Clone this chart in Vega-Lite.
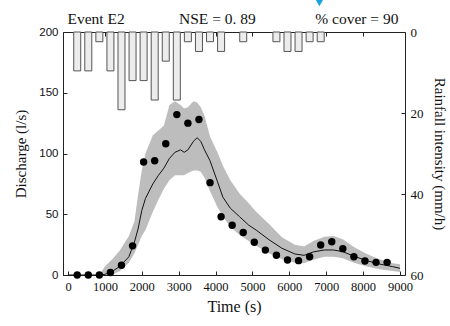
{
  "$schema": "https://vega.github.io/schema/vega-lite/v6.json",
  "width": 342,
  "height": 243,
  "autosize": "none",
  "padding": {"left": 63, "top": 32, "right": 45, "bottom": 51},
  "background": "white",
  "config": {
    "view": {"stroke": "#222", "strokeWidth": 1},
    "axis": {"grid": false, "domain": false, "tickColor": "#222", "labelColor": "#111", "titleColor": "#111", "titleFontWeight": "normal"}
  },
  "datasets": {
    "rain": [
      {"t": 250, "rain": 9.6}, {"t": 550, "rain": 9.6}, {"t": 850, "rain": 2.4}, {"t": 1150, "rain": 9.6},
      {"t": 1450, "rain": 19.2}, {"t": 1750, "rain": 12}, {"t": 2050, "rain": 12}, {"t": 2350, "rain": 16.8},
      {"t": 2650, "rain": 7.2}, {"t": 2950, "rain": 16.8}, {"t": 3250, "rain": 2.4}, {"t": 3550, "rain": 4.8},
      {"t": 3850, "rain": 2.4}, {"t": 4150, "rain": 4.8}, {"t": 4750, "rain": 2.4}, {"t": 5650, "rain": 2.4},
      {"t": 5950, "rain": 4.8}, {"t": 6250, "rain": 4.8}, {"t": 6550, "rain": 2.4}, {"t": 6850, "rain": 2.4}
    ],
    "sim": [
      {"t": 0, "lo": 0, "sim": 0, "hi": 0},
      {"t": 850, "lo": 0, "sim": 0, "hi": 0},
      {"t": 1000, "lo": 0, "sim": 0.5, "hi": 7},
      {"t": 1200, "lo": 0.5, "sim": 3, "hi": 13},
      {"t": 1400, "lo": 3, "sim": 7, "hi": 20},
      {"t": 1650, "lo": 10, "sim": 15, "hi": 32},
      {"t": 1800, "lo": 18, "sim": 27, "hi": 44},
      {"t": 1900, "lo": 25, "sim": 38, "hi": 66},
      {"t": 2000, "lo": 32, "sim": 53, "hi": 86},
      {"t": 2100, "lo": 37, "sim": 63, "hi": 100},
      {"t": 2300, "lo": 52, "sim": 75, "hi": 115},
      {"t": 2450, "lo": 62, "sim": 82, "hi": 119},
      {"t": 2600, "lo": 71, "sim": 88, "hi": 123},
      {"t": 2750, "lo": 78, "sim": 96, "hi": 140},
      {"t": 2900, "lo": 82, "sim": 101, "hi": 143},
      {"t": 3050, "lo": 82, "sim": 103, "hi": 140},
      {"t": 3150, "lo": 82, "sim": 101, "hi": 137},
      {"t": 3250, "lo": 84, "sim": 103, "hi": 138},
      {"t": 3400, "lo": 86, "sim": 110, "hi": 143},
      {"t": 3500, "lo": 86, "sim": 113, "hi": 142},
      {"t": 3600, "lo": 85, "sim": 110, "hi": 138},
      {"t": 3700, "lo": 80, "sim": 103, "hi": 131},
      {"t": 3850, "lo": 69, "sim": 94, "hi": 114},
      {"t": 4050, "lo": 56, "sim": 77, "hi": 101},
      {"t": 4200, "lo": 48, "sim": 64, "hi": 90},
      {"t": 4400, "lo": 40, "sim": 55, "hi": 78},
      {"t": 4650, "lo": 33, "sim": 48, "hi": 67},
      {"t": 4900, "lo": 28, "sim": 41, "hi": 59},
      {"t": 5100, "lo": 24, "sim": 37, "hi": 52},
      {"t": 5450, "lo": 18, "sim": 29, "hi": 42},
      {"t": 5800, "lo": 13, "sim": 22, "hi": 31},
      {"t": 6150, "lo": 10, "sim": 17.3, "hi": 25},
      {"t": 6400, "lo": 9.6, "sim": 16.2, "hi": 23.5},
      {"t": 6650, "lo": 12.5, "sim": 19, "hi": 28},
      {"t": 6950, "lo": 15, "sim": 20.6, "hi": 31.5},
      {"t": 7200, "lo": 15, "sim": 20.6, "hi": 32},
      {"t": 7450, "lo": 13.7, "sim": 19.2, "hi": 29.5},
      {"t": 7750, "lo": 10, "sim": 15.5, "hi": 23},
      {"t": 8100, "lo": 6.9, "sim": 11.8, "hi": 17.3},
      {"t": 8450, "lo": 4.7, "sim": 9, "hi": 12.9},
      {"t": 8800, "lo": 3.3, "sim": 6.9, "hi": 9.6},
      {"t": 9000, "lo": 2.5, "sim": 5.5, "hi": 8.8}
    ],
    "obs": [
      {"t": 250, "q": 0}, {"t": 550, "q": 0}, {"t": 850, "q": 0}, {"t": 1150, "q": 2},
      {"t": 1450, "q": 8}, {"t": 1750, "q": 24}, {"t": 2050, "q": 93}, {"t": 2350, "q": 94},
      {"t": 2650, "q": 108}, {"t": 2950, "q": 132}, {"t": 3250, "q": 125}, {"t": 3550, "q": 128},
      {"t": 3850, "q": 76}, {"t": 4150, "q": 48}, {"t": 4450, "q": 41}, {"t": 4750, "q": 35},
      {"t": 5050, "q": 27}, {"t": 5350, "q": 20.5}, {"t": 5650, "q": 16.3}, {"t": 5950, "q": 12.3},
      {"t": 6250, "q": 11.8}, {"t": 6550, "q": 15}, {"t": 6850, "q": 24.7}, {"t": 7150, "q": 27.4},
      {"t": 7450, "q": 21.7}, {"t": 7750, "q": 15}, {"t": 8050, "q": 11.5}, {"t": 8350, "q": 10.4},
      {"t": 8650, "q": 10.4}
    ]
  },
  "layer": [
    {
      "data": {"name": "rain"},
      "mark": {"type": "bar", "width": 7, "fill": "#ececec", "stroke": "#555", "strokeWidth": 1},
      "encoding": {
        "x": {"field": "t", "type": "quantitative", "scale": {"domain": [0, 9000], "nice": false},
              "axis": {"orient": "top", "labels": false, "title": null, "values": [1000, 2000, 3000, 4000, 5000, 6000, 7000, 8000], "tickSize": -4}},
        "y": {"field": "rain", "type": "quantitative", "scale": {"domain": [0, 60], "reverse": true, "nice": false},
              "axis": {"orient": "right", "values": [0, 20, 40, 60], "tickSize": -4, "labelPadding": 9,
                       "labelFont": "Liberation Serif", "labelFontSize": 13,
                       "title": "Rainfall intensity (mm/h)", "titleAngle": 90, "titleFont": "Liberation Serif", "titleFontSize": 15, "titlePadding": 8}}
      }
    },
    {
      "encoding": {
        "x": {"field": "t", "type": "quantitative", "scale": {"domain": [0, 9000], "nice": false},
              "axis": {"orient": "bottom", "values": [0, 1000, 2000, 3000, 4000, 5000, 6000, 7000, 8000, 9000], "format": "d", "tickSize": -4, "labelPadding": 9,
                       "labelFont": "Liberation Serif", "labelFontSize": 12.5, "labelFlush": false,
                       "title": "Time (s)", "titleFont": "Liberation Serif", "titleFontSize": 16, "titlePadding": 6}}
      },
      "layer": [
        {
          "data": {"name": "sim"},
          "mark": {"type": "area", "color": "#bdbdbd", "opacity": 1},
          "encoding": {
            "y": {"field": "lo", "type": "quantitative", "scale": {"domain": [0, 200], "nice": false},
                  "axis": {"orient": "left", "values": [0, 50, 100, 150, 200], "tickSize": -4, "labelPadding": 9,
                           "labelFont": "Liberation Sans", "labelFontSize": 11.5,
                           "title": "Discharge (l/s)", "titleFont": "Liberation Serif", "titleFontSize": 15, "titlePadding": 10}},
            "y2": {"field": "hi"}
          }
        },
        {
          "data": {"name": "sim"},
          "mark": {"type": "line", "color": "#111", "strokeWidth": 1},
          "encoding": {"y": {"field": "sim", "type": "quantitative"}}
        },
        {
          "data": {"name": "obs"},
          "mark": {"type": "circle", "color": "#000", "opacity": 1, "size": 55},
          "encoding": {"y": {"field": "q", "type": "quantitative"}}
        }
      ]
    },
    {
      "data": {"values": [{"label": "Event E2", "t": 763}, {"label": "NSE = 0. 89", "t": 4050}, {"label": "% cover = 90", "t": 7830}]},
      "mark": {"type": "text", "font": "Liberation Serif", "fontSize": 15.5, "baseline": "alphabetic", "align": "center", "color": "#111"},
      "encoding": {
        "x": {"field": "t", "type": "quantitative", "scale": {"domain": [0, 9000], "nice": false}, "axis": null},
        "y": {"datum": -2, "scale": {"domain": [0, 60], "reverse": true, "nice": false}, "axis": null},
        "text": {"field": "label"}
      }
    },
    {
      "data": {"values": [{"t": 6816}]},
      "mark": {"type": "point", "shape": "triangle-down", "filled": true, "color": "#1aa3dc", "size": 110, "opacity": 1},
      "encoding": {
        "x": {"field": "t", "type": "quantitative", "scale": {"domain": [0, 9000], "nice": false}, "axis": null},
        "y": {"datum": -7.5, "scale": {"domain": [0, 60], "reverse": true, "nice": false}, "axis": null}
      }
    }
  ],
  "resolve": {"scale": {"y": "independent"}, "axis": {"x": "independent", "y": "independent"}}
}
